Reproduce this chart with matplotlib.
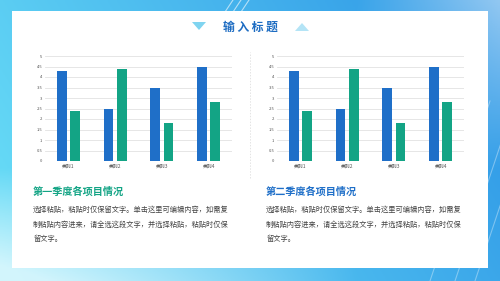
import matplotlib.pyplot as plt
from matplotlib.patches import Rectangle, Polygon
import numpy as np

plt.rcParams['font.family'] = ['Noto Sans CJK SC', 'DejaVu Sans']

# 数据
categories = ['类别1', '类别2', '类别3', '类别4']
yticks = [0, 0.5, 1, 1.5, 2, 2.5, 3, 3.5, 4, 4.5, 5]
q1_blue = [4.3, 2.5, 3.5, 4.5]
q1_green = [2.4, 4.4, 1.8, 2.8]
q2_blue = [4.3, 2.5, 3.5, 4.5]
q2_green = [2.4, 4.4, 1.8, 2.8]

title = '输 入 标 题'
headings = ['第一季度各项目情况', '第二季度各项目情况']
body = ['选择粘贴，粘贴时仅保留文字。单击这里可编辑内容，如需复',
        '制粘贴内容进来，请全选这段文字，并选择粘贴，粘贴时仅保',
        '留文字。']

BLUE = '#1f6fc8'
GREEN = '#13a485'
W, H = 500, 281

fig = plt.figure(figsize=(5, 2.81), dpi=100)

# 背景渐变
bg = fig.add_axes([0, 0, 1, 1])
xx = np.linspace(0, 1, 200)[None, :]
yy = np.linspace(0, 1, 120)[:, None]
c1 = np.array([0.42, 0.88, 0.97])
c2 = np.array([0.17, 0.58, 0.90])
t = np.clip(0.75 * xx + 0.25 * (1 - yy), 0, 1)[..., None]
img = c1 * (1 - t) + c2 * t
light = np.clip((yy - 0.6) * 2.0 * (1 - xx * 1.4), 0, 0.7)[..., None]
img = img * (1 - light) + light
bg.imshow(img, extent=[0, W, 0, H], aspect='auto', origin='upper')
for x0 in [430, 455, 475]:
    bg.plot([x0, x0 + 60], [0, 180], color='white', alpha=0.35, lw=0.8)
for x0 in [225, 233, 241]:
    bg.plot([x0, x0 + 8], [H - 12, H], color='white', alpha=0.6, lw=0.8)
bg.add_patch(Rectangle((12, H - 268), 476, 257, facecolor='white', edgecolor='none'))
bg.plot([250, 250], [H - 178, H - 52], color='#e4e4e4', lw=0.7, ls=(0, (1.5, 1.5)))
bg.add_patch(Polygon([[192, H - 22], [206, H - 22], [199, H - 30]], closed=True,
                     facecolor='#7fd4f0', edgecolor='none'))
bg.add_patch(Polygon([[295, H - 31], [309, H - 31], [302, H - 23]], closed=True,
                     facecolor='#b4e4f6', edgecolor='none'))
bg.text(250, H - 27, title, ha='center', va='center', fontsize=8.5,
        fontweight='heavy', color='#1d6cc2')
bg.set_xlim(0, W)
bg.set_ylim(0, H)
bg.axis('off')


def draw_chart(left, blue, green):
    ax = fig.add_axes([left / W, (H - 161) / H, 187 / W, 105 / H])
    x = np.arange(len(categories))
    ax.bar(x - 0.14, blue, width=0.21, color=BLUE, zorder=3)
    ax.bar(x + 0.14, green, width=0.21, color=GREEN, zorder=3)
    ax.set_xlim(-0.5, 3.5)
    ax.set_ylim(0, 5)
    ax.set_yticks(yticks)
    ax.set_yticklabels([f'{v:g}' for v in yticks], fontsize=3, color='#555555')
    ax.set_xticks(x)
    ax.set_xticklabels(categories, fontsize=3.5, color='#555555', style='italic')
    ax.tick_params(length=0, pad=2)
    ax.grid(axis='y', color='#e2e2e2', lw=0.6, zorder=0)
    for s in ax.spines.values():
        s.set_visible(False)
    ax.set_facecolor('none')


draw_chart(45, q1_blue, q1_green)
draw_chart(277, q2_blue, q2_green)

for x0, head, col in [(33, headings[0], GREEN), (266, headings[1], BLUE)]:
    bg.text(x0, H - 192, head, ha='left', va='center', fontsize=7.3,
            fontweight='bold', color=col)
    for i, line in enumerate(body):
        bg.text(x0, H - 210 - i * 14.5, line, ha='left', va='center',
                fontsize=5.2, color='#444444')

fig.savefig('out.png', dpi=100)
